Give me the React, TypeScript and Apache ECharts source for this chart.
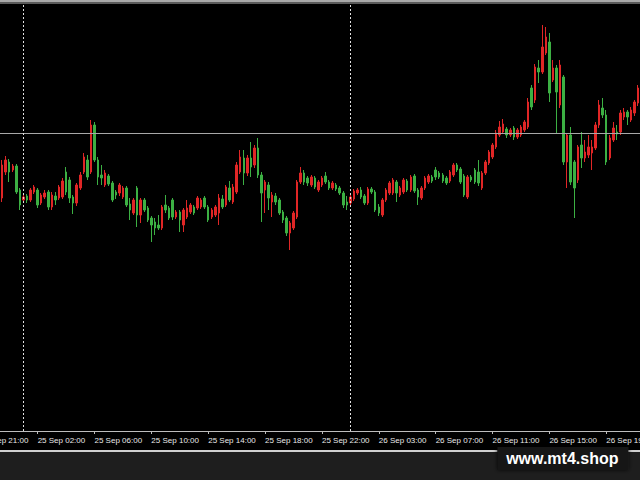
import React, { useEffect, useRef } from "react";
import * as echarts from "echarts";

// Tick labels: one every 16 bars (M15), starting at the first (off-screen) bar
const tickLabels = [
  "25 Sep 21:00", "25 Sep 02:00", "25 Sep 06:00", "25 Sep 10:00",
  "25 Sep 14:00", "25 Sep 18:00", "25 Sep 22:00", "26 Sep 03:00",
  "26 Sep 07:00", "26 Sep 11:00", "26 Sep 15:00", "26 Sep 19:00",
];

// bars that lie left of the visible window (only their time label shows)
const hiddenLeadBars = 6;

// candles: [open, close, low, high]
const candlesA = [
  [302, 335, 298, 340], [328, 340, 325, 344], [338, 328, 318, 341], [330, 334, 328, 336],
  [334, 308, 306, 336], [310, 295, 290, 312], [300, 303, 298, 305], [304, 300, 297, 306],
  [300, 310, 298, 312], [308, 313, 306, 315], [310, 295, 292, 312], [297, 305, 295, 307],
  [303, 307, 301, 310], [308, 293, 290, 310], [293, 305, 290, 308], [304, 300, 295, 308],
  [302, 313, 300, 315], [303, 319, 301, 322], [328, 308, 305, 333], [320, 302, 297, 323],
  [303, 297, 286, 305], [297, 315, 294, 317], [312, 325, 310, 328], [328, 343, 326, 347],
  [340, 323, 320, 345], [328, 375, 326, 380], [375, 340, 338, 378], [340, 323, 315, 343],
  [325, 322, 315, 335], [315, 327, 313, 330],
];
const candlesB = [
  [324, 316, 314, 326], [317, 300, 298, 319], [308, 305, 301, 310], [307, 315, 304, 317],
  [303, 312, 301, 314], [312, 295, 293, 314], [296, 290, 280, 302], [287, 300, 285, 302],
  [312, 285, 273, 314], [285, 300, 277, 302], [300, 290, 288, 302], [292, 280, 278, 294],
  [282, 275, 258, 284], [278, 272, 265, 282], [275, 272, 270, 285], [272, 293, 270, 295],
  [295, 290, 287, 305], [292, 282, 280, 294], [300, 283, 280, 302], [283, 288, 281, 290],
  [288, 280, 268, 290], [275, 290, 268, 292], [283, 292, 281, 300], [288, 295, 286, 297],
  [293, 287, 285, 295], [292, 302, 290, 304], [293, 300, 291, 302], [302, 293, 291, 304],
  [293, 280, 278, 295], [283, 290, 281, 292],
];
const candlesC = [
  [285, 293, 283, 295], [287, 302, 275, 306], [301, 293, 291, 305], [295, 313, 293, 315],
  [312, 300, 298, 319], [298, 313, 296, 316], [308, 335, 306, 338], [328, 343, 326, 350],
  [342, 327, 315, 350], [327, 342, 324, 345], [342, 333, 323, 358], [335, 352, 332, 355],
  [352, 325, 322, 362], [325, 307, 278, 328], [310, 318, 287, 320], [315, 302, 290, 318],
  [298, 305, 283, 308], [304, 298, 295, 307], [300, 287, 285, 302], [288, 280, 277, 290],
  [282, 267, 264, 284], [267, 277, 250, 279], [272, 287, 270, 289], [283, 318, 281, 320],
  [318, 327, 316, 333], [327, 318, 315, 330], [322, 317, 314, 324], [315, 323, 313, 325],
  [322, 313, 311, 324], [310, 318, 308, 320],
];
const candlesD = [
  [315, 322, 313, 324], [324, 318, 316, 328], [318, 312, 310, 320], [312, 317, 310, 319],
  [315, 311, 309, 317], [312, 307, 305, 314], [307, 295, 292, 309], [298, 295, 290, 304],
  [297, 303, 295, 305], [301, 309, 299, 311], [307, 310, 305, 312], [310, 303, 301, 313],
  [304, 297, 295, 306], [297, 311, 295, 313], [311, 308, 306, 313], [308, 290, 288, 310],
  [293, 287, 284, 296], [285, 300, 283, 302], [300, 310, 298, 312], [307, 317, 305, 319],
  [307, 320, 305, 322], [318, 307, 298, 320], [305, 312, 303, 314], [308, 320, 306, 322],
  [319, 310, 308, 321], [310, 323, 308, 325], [324, 309, 307, 326], [310, 303, 295, 312],
  [302, 312, 300, 314], [312, 322, 310, 324],
];
const candlesE = [
  [318, 324, 316, 326], [323, 319, 317, 325], [330, 323, 320, 333], [327, 323, 321, 329],
  [325, 319, 317, 327], [322, 317, 315, 324], [319, 328, 317, 330], [325, 335, 323, 337],
  [335, 330, 328, 337], [331, 318, 316, 333], [324, 305, 303, 326], [303, 323, 301, 325],
  [323, 320, 318, 325], [330, 318, 316, 332], [328, 317, 314, 340], [312, 327, 310, 329],
  [327, 338, 325, 340], [337, 348, 335, 350], [343, 355, 341, 357], [353, 367, 351, 370],
  [365, 373, 363, 379], [368, 376, 366, 381], [371, 365, 362, 373], [365, 370, 363, 372],
  [372, 363, 360, 374], [363, 370, 361, 372], [365, 373, 363, 375], [370, 378, 368, 380],
  [373, 398, 371, 402], [412, 393, 390, 415],
];
const candlesF = [
  [400, 433, 397, 436], [432, 428, 417, 440], [428, 453, 426, 475], [447, 463, 445, 473],
  [458, 407, 398, 467], [420, 432, 418, 440], [432, 408, 367, 435], [395, 435, 392, 440],
  [423, 338, 335, 425], [338, 365, 312, 367], [365, 318, 315, 373], [338, 312, 282, 340],
  [320, 353, 317, 355], [355, 342, 332, 368], [342, 348, 338, 360], [345, 353, 342, 365],
  [347, 353, 330, 360], [352, 375, 350, 378], [375, 395, 372, 400], [392, 385, 382, 402],
  [385, 338, 335, 390], [342, 362, 340, 365], [360, 372, 358, 378], [368, 366, 360, 375],
  [368, 387, 365, 390], [383, 388, 380, 392], [388, 383, 375, 390], [380, 390, 378, 393],
  [387, 398, 384, 400], [397, 412, 394, 415],
];

const priceLevel = 367;
const daySeparatorBars = [12, 104];

const visibleBars = 180;
const barsPerTick = 16;

const BAR_W = 640 / visibleBars;
const OFFSET = hiddenLeadBars * BAR_W; // chart box extends this far left of the page

export default function App() {
  const ref = useRef<HTMLDivElement>(null);
  useEffect(() => {
    if (!ref.current) return;
    const chart = echarts.init(ref.current, undefined, { renderer: "svg" });
    const lead = Array.from({ length: hiddenLeadBars }, () => ["-", "-", "-", "-"]);
    const data = [...lead, ...candlesA, ...candlesB, ...candlesC, ...candlesD, ...candlesE, ...candlesF];
    const categories = data.map((_, i) => String(i));
    const red = "#e02626";
    const green = "#3cb043";
    const W = 640 + OFFSET;
    chart.setOption({
      animation: false,
      backgroundColor: "#000000",
      grid: { left: 0, right: 0, top: 4, bottom: 49, containLabel: false, outerBoundsMode: "none" },
      xAxis: {
        type: "category",
        data: categories,
        boundaryGap: true,
        axisLine: { show: true, lineStyle: { color: "#bdbdbd", width: 1 } },
        axisTick: {
          show: true,
          alignWithLabel: true,
          interval: barsPerTick - 1,
          length: 3,
          lineStyle: { color: "#bdbdbd" },
        },
        axisLabel: {
          interval: barsPerTick - 1,
          align: "left",
          margin: 5,
          color: "#e8e8e8",
          fontSize: 8,
          fontFamily: "Liberation Sans",
          formatter: (_v: string, i: number) => tickLabels[i / barsPerTick] ?? "",
        },
        splitLine: { show: false },
      },
      yAxis: {
        type: "value",
        min: 69,
        max: 496,
        show: false,
        splitLine: { show: false },
      },
      series: [
        {
          type: "candlestick",
          data,
          barWidth: 2,
          itemStyle: {
            color: red,
            color0: green,
            borderColor: red,
            borderColor0: green,
            borderWidth: 1,
          },
          markLine: {
            silent: true,
            symbol: ["none", "none"],
            label: { show: false },
            data: [
              { yAxis: priceLevel, lineStyle: { color: "#a8a8a8", width: 1, type: "solid" } },
              ...daySeparatorBars.map((b) => ({
                xAxis: b,
                lineStyle: { color: "#e0e0e0", width: 1, type: [2, 2] },
              })),
            ],
          },
        },
      ],
      graphic: [
        { type: "rect", shape: { x: 0, y: 0, width: W, height: 2 }, style: { fill: "#a9a9a9" }, z: 10 },
        { type: "rect", shape: { x: 0, y: 2, width: W, height: 2 }, style: { fill: "#5a5a5a" }, z: 10 },
        { type: "rect", shape: { x: 0, y: 450, width: W, height: 2 }, style: { fill: "#d0d0d0" }, z: 10 },
        { type: "rect", shape: { x: 0, y: 452, width: W, height: 28 }, style: { fill: "#1e1e1e" }, z: 10 },
        {
          type: "rect",
          shape: { x: OFFSET + 497, y: 447, width: 131, height: 23 },
          style: { fill: "#121212", shadowBlur: 4, shadowColor: "rgba(0,0,0,0.8)" },
          z: 11,
        },
        {
          type: "text",
          x: OFFSET + 562,
          y: 458,
          style: {
            text: "www.mt4.shop",
            fill: "#ffffff",
            fontSize: 16,
            fontWeight: "bold",
            fontFamily: "Liberation Sans",
            align: "center",
            verticalAlign: "middle",
          },
          z: 12,
        },
      ],
    });
    return () => chart.dispose();
  }, []);
  return (
    <div
      ref={ref}
      style={{
        position: "fixed",
        left: -OFFSET,
        top: 0,
        width: 640 + OFFSET,
        height: 480,
        background: "#000",
      }}
    />
  );
}
